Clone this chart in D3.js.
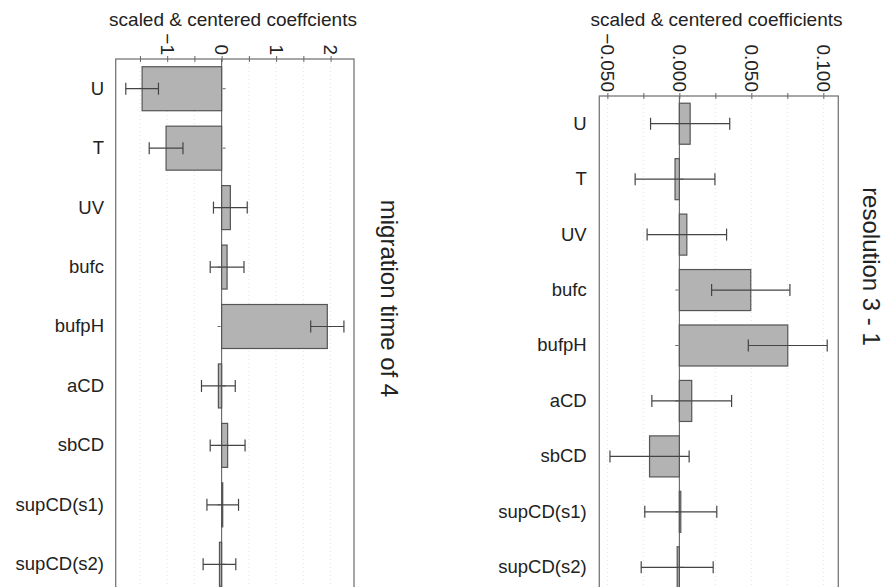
<!DOCTYPE html>
<html>
<head>
<meta charset="utf-8">
<script src="https://d3js.org/d3.v7.min.js"></script>
<style>
  body { margin: 0; background: #fff; }
  text { font-family: "Liberation Sans", Arial, sans-serif; fill: #222; }
</style>
</head>
<body>
<div id="chart-area"></div>
<script>
// factors, top to bottom
var categories = ["U", "T", "UV", "bufc", "bufpH", "aCD", "sbCD", "supCD(s1)", "supCD(s2)"];

// migration time of 4
var migrationCoef = [-1.46, -1.02, 0.16, 0.10, 1.94, -0.06, 0.11, 0.02, -0.04];
var migrationErr = [0.30, 0.31, 0.31, 0.31, 0.305, 0.31, 0.32, 0.29, 0.30];
var migrationTicks = [-1, 0, 1, 2];
var migrationMinor = [-1.5, -0.5, 0.5, 1.5];

// resolution 3 - 1
var resolutionCoef = [0.0075, -0.0030, 0.0052, 0.0496, 0.0753, 0.0086, -0.0207, 0.0010, -0.0015];
var resolutionErr = [0.0275, 0.0277, 0.0276, 0.0272, 0.0274, 0.0277, 0.0275, 0.025, 0.025];
var resolutionTicks = [-0.05, 0, 0.05, 0.1];
var resolutionMinor = [-0.025, 0.025, 0.075];

var width = 887;
var height = 587;

var svg = d3.select("#chart-area")
  .append("svg")
  .attr("width", width)
  .attr("height", height);

function panel(opt) {
  var x = d3.scaleLinear()
    .domain(opt.domain)
    .range([opt.left, opt.right]);

  var y = d3.scaleBand()
    .domain(categories)
    .range([opt.top, opt.bottom])
    .paddingInner(0.26)
    .paddingOuter(0.13);

  var g = svg.append("g");

  // faint dotted grid
  g.selectAll(".grid")
    .data(opt.ticks.concat(opt.minor))
    .enter().append("line")
    .attr("x1", d => x(d)).attr("x2", d => x(d))
    .attr("y1", opt.top).attr("y2", opt.bottom)
    .attr("stroke", "#e4e4e4")
    .attr("stroke-dasharray", "1,3");

  // zero line
  g.append("line")
    .attr("x1", x(0)).attr("x2", x(0))
    .attr("y1", opt.top).attr("y2", opt.bottom)
    .attr("stroke", "#555");

  // small ticks on zero line, opposite side of the bar
  g.selectAll(".ztick")
    .data(categories)
    .enter().append("line")
    .attr("x1", (d, i) => x(0) + (opt.coef[i] < 0 ? 1 : -1))
    .attr("x2", (d, i) => x(0) + (opt.coef[i] < 0 ? 4 : -4))
    .attr("y1", d => y(d) + y.bandwidth() / 2)
    .attr("y2", d => y(d) + y.bandwidth() / 2)
    .attr("stroke", "#666");

  // bars
  g.selectAll(".bar")
    .data(categories)
    .enter().append("rect")
    .attr("x", (d, i) => Math.min(x(0), x(opt.coef[i])))
    .attr("width", (d, i) => Math.max(1, Math.abs(x(opt.coef[i]) - x(0))))
    .attr("y", d => y(d))
    .attr("height", y.bandwidth())
    .attr("fill", "#b3b3b3")
    .attr("stroke", "#555")
    .attr("stroke-width", 1.2);

  // error bars
  var eb = g.selectAll(".err")
    .data(categories)
    .enter().append("g")
    .attr("stroke", "#444")
    .attr("stroke-width", 1.2);

  eb.append("line")
    .attr("x1", (d, i) => x(opt.coef[i] - opt.err[i]))
    .attr("x2", (d, i) => x(opt.coef[i] + opt.err[i]))
    .attr("y1", d => y(d) + y.bandwidth() / 2)
    .attr("y2", d => y(d) + y.bandwidth() / 2);

  [-1, 1].forEach(s => {
    eb.append("line")
      .attr("x1", (d, i) => x(opt.coef[i] + s * opt.err[i]))
      .attr("x2", (d, i) => x(opt.coef[i] + s * opt.err[i]))
      .attr("y1", d => y(d) + y.bandwidth() / 2 - 6)
      .attr("y2", d => y(d) + y.bandwidth() / 2 + 6);
  });

  // frame
  g.append("rect")
    .attr("x", opt.left).attr("y", opt.top)
    .attr("width", opt.right - opt.left)
    .attr("height", opt.bottom - opt.top)
    .attr("fill", "none")
    .attr("stroke", "#777")
    .attr("stroke-width", 1.3);

  // top axis, labels turned to read downwards
  var axisG = g.append("g")
    .attr("transform", "translate(0," + opt.top + ")")
    .call(d3.axisTop(x).tickValues(opt.ticks).tickSize(3).tickSizeOuter(0).tickFormat(opt.format));
  axisG.select(".domain").remove();
  axisG.selectAll(".tick line").attr("stroke", "#666").attr("y2", 3).attr("y1", -3);
  axisG.selectAll("text")
    .attr("transform", "rotate(90)")
    .attr("text-anchor", "end")
    .attr("x", -4)
    .attr("y", 0)
    .attr("dy", "0.35em")
    .style("font-size", "19px")
    .style("font-family", "Liberation Sans, Arial, sans-serif")
    .style("fill", "#222");

  var minorG = g.append("g")
    .attr("transform", "translate(0," + opt.top + ")")
    .call(d3.axisTop(x).tickValues(opt.minor).tickSize(3).tickFormat(""));
  minorG.select(".domain").remove();
  minorG.selectAll(".tick line").attr("stroke", "#666").attr("y2", 3).attr("y1", -3);

  // category labels
  var yAxisG = g.append("g")
    .attr("transform", "translate(" + (opt.labelX + 4) + ",0)")
    .call(d3.axisLeft(y).tickSize(0).tickPadding(4));
  yAxisG.select(".domain").remove();
  yAxisG.selectAll("text")
    .style("font-size", "18.5px")
    .style("font-family", "Liberation Sans, Arial, sans-serif")
    .style("fill", "#222");

  // title
  g.append("text")
    .attr("x", opt.titleX)
    .attr("y", 26)
    .attr("text-anchor", "middle")
    .attr("font-size", "19px")
    .text(opt.title);

  // response label
  g.append("text")
    .attr("transform", "translate(" + opt.sideX + "," + opt.sideY + ") rotate(90)")
    .attr("text-anchor", "middle")
    .attr("dy", "0.35em")
    .attr("font-size", "24px")
    .text(opt.response);
}

panel({
  coef: migrationCoef,
  err: migrationErr,
  ticks: migrationTicks,
  minor: migrationMinor,
  domain: [-1.945, 2.43],
  left: 115.7, right: 354, top: 59, bottom: 594,
  labelX: 104, titleX: 233, sideX: 389.5, sideY: 298.5,
  format: d3.format("d"),
  title: "scaled & centered coeffcients",
  response: "migration time of 4"
});

panel({
  coef: resolutionCoef,
  err: resolutionErr,
  ticks: resolutionTicks,
  minor: resolutionMinor,
  domain: [-0.0556, 0.1104],
  left: 599.3, right: 838.3, top: 96, bottom: 595,
  labelX: 586.7, titleX: 716.5, sideX: 871.5, sideY: 266.5,
  format: d3.format(".3f"),
  title: "scaled & centered coefficients",
  response: "resolution 3 - 1"
});
</script>
</body>
</html>
